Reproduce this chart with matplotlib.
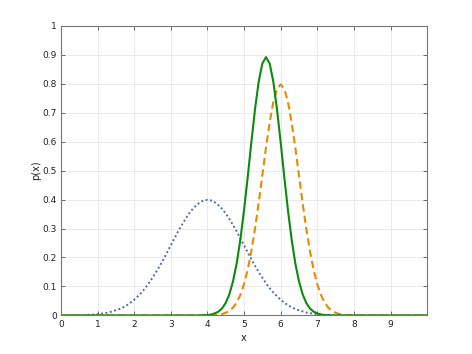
import numpy as np
import matplotlib
matplotlib.use("Agg")
import matplotlib.pyplot as plt

# x grid (step 0.1 from 0 to 10)
x = np.linspace(0, 10, 101)

# prior (blue dotted)
p_prior = [
    0.000, 0.000, 0.000, 0.000, 0.001, 0.001, 0.001, 0.002, 0.002, 0.003,
    0.004, 0.006, 0.008, 0.010, 0.014, 0.018, 0.022, 0.028, 0.035, 0.044,
    0.054, 0.066, 0.079, 0.094, 0.111, 0.130, 0.150, 0.171, 0.194, 0.218,
    0.242, 0.266, 0.290, 0.312, 0.333, 0.352, 0.368, 0.381, 0.391, 0.397,
    0.399, 0.397, 0.391, 0.381, 0.368, 0.352, 0.333, 0.312, 0.290, 0.266,
    0.242, 0.218, 0.194, 0.171, 0.150, 0.130, 0.111, 0.094, 0.079, 0.066,
    0.054, 0.044, 0.035, 0.028, 0.022, 0.018, 0.014, 0.010, 0.008, 0.006,
    0.004, 0.003, 0.002, 0.002, 0.001, 0.001, 0.001, 0.000, 0.000, 0.000,
    0.000, 0.000, 0.000, 0.000, 0.000, 0.000, 0.000, 0.000, 0.000, 0.000,
    0.000, 0.000, 0.000, 0.000, 0.000, 0.000, 0.000, 0.000, 0.000, 0.000,
    0.000,
]

# measurement (orange dashed)
p_meas = [
    0.000, 0.000, 0.000, 0.000, 0.000, 0.000, 0.000, 0.000, 0.000, 0.000,
    0.000, 0.000, 0.000, 0.000, 0.000, 0.000, 0.000, 0.000, 0.000, 0.000,
    0.000, 0.000, 0.000, 0.000, 0.000, 0.000, 0.000, 0.000, 0.000, 0.000,
    0.000, 0.000, 0.000, 0.000, 0.000, 0.000, 0.000, 0.000, 0.000, 0.000,
    0.000, 0.001, 0.001, 0.002, 0.005, 0.009, 0.016, 0.027, 0.045, 0.071,
    0.108, 0.158, 0.222, 0.300, 0.388, 0.484, 0.580, 0.666, 0.737, 0.782,
    0.798, 0.782, 0.737, 0.666, 0.580, 0.484, 0.388, 0.300, 0.222, 0.158,
    0.108, 0.071, 0.045, 0.027, 0.016, 0.009, 0.005, 0.002, 0.001, 0.001,
    0.000, 0.000, 0.000, 0.000, 0.000, 0.000, 0.000, 0.000, 0.000, 0.000,
    0.000, 0.000, 0.000, 0.000, 0.000, 0.000, 0.000, 0.000, 0.000, 0.000,
    0.000,
]

# posterior (green solid)
p_post = [
    0.000, 0.000, 0.000, 0.000, 0.000, 0.000, 0.000, 0.000, 0.000, 0.000,
    0.000, 0.000, 0.000, 0.000, 0.000, 0.000, 0.000, 0.000, 0.000, 0.000,
    0.000, 0.000, 0.000, 0.000, 0.000, 0.000, 0.000, 0.000, 0.000, 0.000,
    0.000, 0.000, 0.000, 0.000, 0.000, 0.000, 0.000, 0.000, 0.000, 0.001,
    0.001, 0.003, 0.007, 0.013, 0.024, 0.043, 0.073, 0.118, 0.180, 0.262,
    0.363, 0.477, 0.598, 0.712, 0.807, 0.870, 0.892, 0.870, 0.807, 0.712,
    0.598, 0.477, 0.363, 0.262, 0.180, 0.118, 0.073, 0.043, 0.024, 0.013,
    0.007, 0.003, 0.001, 0.001, 0.000, 0.000, 0.000, 0.000, 0.000, 0.000,
    0.000, 0.000, 0.000, 0.000, 0.000, 0.000, 0.000, 0.000, 0.000, 0.000,
    0.000, 0.000, 0.000, 0.000, 0.000, 0.000, 0.000, 0.000, 0.000, 0.000,
    0.000,
]

x_ticks = [0, 1, 2, 3, 4, 5, 6, 7, 8, 9]
y_ticks = [0, 0.1, 0.2, 0.3, 0.4, 0.5, 0.6, 0.7, 0.8, 0.9, 1]
y_tick_labels = ["0", "0.1", "0.2", "0.3", "0.4", "0.5", "0.6", "0.7", "0.8", "0.9", "1"]

fig = plt.figure(figsize=(4.72, 3.54), dpi=100)
ax = fig.add_axes([0.129, 0.109, 0.776, 0.818])

ax.plot(x, p_prior, color="#4f6ea8", linestyle=(0, (1, 1.3)), linewidth=1.4)
ax.plot(x, p_meas, color="#e68a00", linestyle=(0, (3.5, 2)), linewidth=1.5)
ax.plot(x, p_post, color="#0b8a0b", linestyle="-", linewidth=1.5)

ax.set_xlim(0, 10)
ax.set_ylim(0, 1)
ax.set_xticks(x_ticks)
ax.set_xticklabels([str(t) for t in x_ticks])
ax.set_yticks(y_ticks)
ax.set_yticklabels(y_tick_labels)

ax.grid(True, color="#e6e6e6", linewidth=0.6)
ax.set_axisbelow(True)
ax.tick_params(direction="in", length=3, width=0.6, colors="#555555",
               labelcolor="#222222", labelsize=6.5, top=True, right=True, pad=3)
for s in ax.spines.values():
    s.set_color("#777777")
    s.set_linewidth(0.8)

ax.set_xlabel("x", fontsize=7, color="#222222", labelpad=3)
ax.set_ylabel("p(x)", fontsize=7, color="#222222", labelpad=1)

fig.savefig("out.png", dpi=100)
